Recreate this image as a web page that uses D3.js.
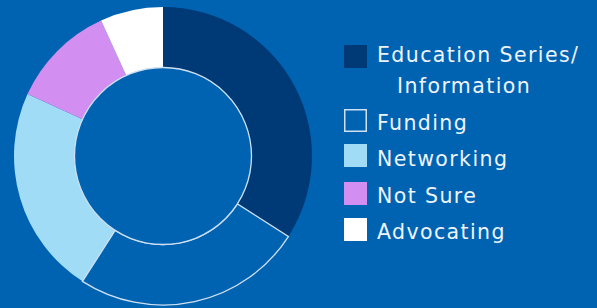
<!DOCTYPE html>
<html>
<head>
<meta charset="utf-8">
<script src="https://cdn.jsdelivr.net/npm/d3@7"></script>
<style>
  html, body { margin: 0; padding: 0; background: #0063b1; }
  svg { display: block; }
  .label { font-family: "DejaVu Sans", sans-serif; font-size: 20.5px; letter-spacing: 1.4px; fill: #eef4fb; }
</style>
</head>
<body>
<svg id="donut" width="597" height="308"></svg>
<script>
// chart data
const categories = ["Education Series/Information", "Funding", "Networking", "Not Sure", "Advocating"];
const labelLines = [["Education Series/", "Information"], ["Funding"], ["Networking"], ["Not Sure"], ["Advocating"]];
const counts = [15, 11, 10, 5, 3];
const sliceColors = ["#003a76", "#0063b1", "#a0dcf6", "#d28ff1", "#ffffff"];

const width = 597, height = 308;
const cx = 163, cy = 156;
const outerR = 149, innerR = 88.5;
const lineColor = "#cfe0f2";

let svg = d3.select("#donut");

// background
svg.append("rect").attr("width", width).attr("height", height).attr("fill", "#0063b1");

let g = svg.append("g").attr("transform", "translate(" + cx + "," + cy + ")");

let pie = d3.pie().sort(null).startAngle(0).endAngle(2 * Math.PI);
let arc = d3.arc().innerRadius(innerR).outerRadius(outerR);
let color = d3.scaleOrdinal(categories, sliceColors);

let arcs = pie(counts);

// slices
g.selectAll("path.slice")
    .data(arcs)
    .enter().append("path")
    .attr("class", "slice")
    .attr("d", arc)
    .attr("fill", (d, i) => color(categories[i]));

// outline only on the funding slice (same colour as background)
g.append("path")
    .attr("d", arc(arcs[1]))
    .attr("fill", "none")
    .attr("stroke", lineColor)
    .attr("stroke-width", 1.3);

// hole outline
g.append("circle")
    .attr("r", innerR)
    .attr("fill", "#0063b1")
    .attr("stroke", lineColor)
    .attr("stroke-width", 1.3);

// legend
const boxX = 344, boxSize = 23, textX = 377;
const rowTops = [45, 109, 144, 182, 218];
const baselines = [62, 130, 166, 203, 239];

let legend = svg.append("g");
categories.forEach((cat, i) => {
    let row = legend.append("g");
    let box = row.append("rect")
        .attr("x", boxX).attr("y", rowTops[i])
        .attr("width", boxSize).attr("height", boxSize);
    if (i === 1) {
        box.attr("x", boxX + 0.75).attr("y", rowTops[i] + 0.75)
            .attr("width", boxSize - 1.5).attr("height", boxSize - 1.5)
            .attr("fill", "none").attr("stroke", lineColor).attr("stroke-width", 1.5);
    } else {
        box.attr("fill", color(cat));
    }
    labelLines[i].forEach((line, j) => {
        row.append("text")
            .attr("class", "label")
            .attr("x", j === 0 ? textX : textX + 20)
            .attr("y", baselines[i] + j * 31)
            .text(line);
    });
});
</script>
</body>
</html>
